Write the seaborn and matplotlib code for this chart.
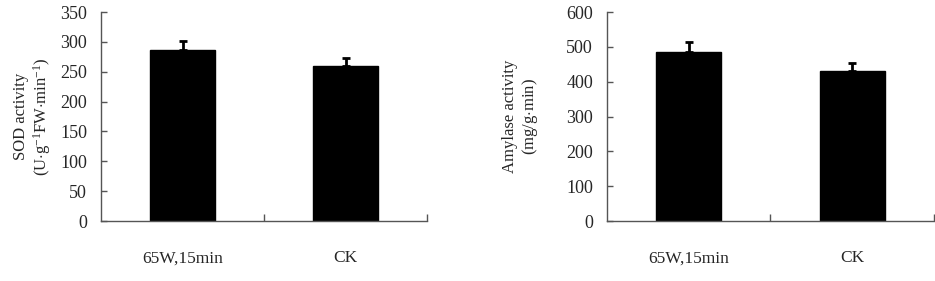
import numpy as np
import pandas as pd
import matplotlib
matplotlib.use("Agg")
import matplotlib.pyplot as plt
import seaborn as sns

# Data
treatments = ["65W,15min", "CK"]
sod_mean = [286, 259]
sod_err = [15, 14]
amylase_mean = [486, 430]
amylase_err = [28, 24]

sns.set_style("ticks")
plt.rcParams["font.family"] = ["Liberation Serif", "DejaVu Serif"]
plt.rcParams["mathtext.fontset"] = "custom"
plt.rcParams["mathtext.rm"] = "Liberation Serif"
plt.rcParams["mathtext.it"] = "Liberation Serif"

fig = plt.figure(figsize=(9.35, 2.81), dpi=100)
ax1 = fig.add_axes([0.108, 0.2135, 0.349, 0.7435])
ax2 = fig.add_axes([0.649, 0.2135, 0.350, 0.7435])


def draw_panel(ax, means, errs, ymax, ystep, ylabel, lpad):
    df = pd.DataFrame({"Treatment": treatments, "Value": means})
    sns.barplot(data=df, x="Treatment", y="Value", color="black",
                edgecolor="black", width=0.4, errorbar=None, ax=ax)
    xs = [p.get_x() + p.get_width() / 2 for p in ax.patches]
    ax.errorbar(xs, means, yerr=[np.zeros(len(errs)), errs], fmt="none",
                ecolor="black", elinewidth=2, capsize=2.7, capthick=2)
    ax.set_xlim(-0.5, 1.5)
    ax.set_ylim(0, ymax)
    ax.set_yticks(np.arange(0, ymax + 1, ystep))
    ax.set_xticks(range(len(treatments)))
    ax.set_xticklabels(treatments)
    ax.set_xticks([0.5, 1.5], minor=True)
    ax.tick_params(axis="x", which="major", length=0, pad=21, labelsize=12.5)
    ax.tick_params(axis="x", which="minor", direction="in", length=5,
                   width=1, color="#555555")
    ax.tick_params(axis="y", direction="in", length=4.5, width=1,
                   color="#555555", labelsize=13, pad=10)
    ax.set_xlabel("")
    ax.set_ylabel(ylabel, fontsize=12, labelpad=lpad, linespacing=1.15)
    for s in ["top", "right"]:
        ax.spines[s].set_visible(False)
    for s in ["left", "bottom"]:
        ax.spines[s].set_color("#555555")
        ax.spines[s].set_linewidth(1.0)


draw_panel(ax1, sod_mean, sod_err, 350, 50,
           "SOD activity\n(U$\\cdot$g$^{\\mathregular{-1}}$FW$\\cdot$min$^{\\mathregular{-1}}$)", 5)
draw_panel(ax2, amylase_mean, amylase_err, 600, 100,
           "Amylase activity\n(mg/g$\\cdot$min)", 19)

fig.savefig("out.png", dpi=100)
